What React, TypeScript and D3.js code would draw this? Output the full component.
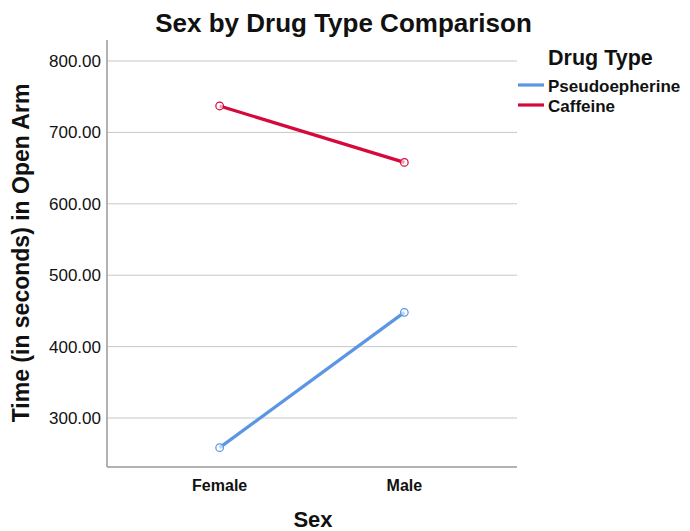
import React, { useEffect, useRef } from 'react';
import * as d3 from 'd3';

const sexes = ['Female', 'Male'];
const drugTypes = ['Pseudoepherine', 'Caffeine'];
const pseudoValues = [258.5, 448];
const caffeineValues = [737, 658];
const yTicks = [300, 400, 500, 600, 700, 800];
const seriesColors = ['#5a96e3', '#d5093b'];

const App: React.FC = () => {
  const svgRef = useRef<SVGSVGElement>(null);

  useEffect(() => {
    if (!svgRef.current) return;
    const svg = d3.select(svgRef.current);
    svg.selectAll('*').remove();

    const font = '"Liberation Sans", Arial, sans-serif';
    const left = 107, right = 517, top = 40, bottom = 467;

    const x = d3.scalePoint<string>().domain(sexes).range([left, right]).padding(0.61);
    const y = d3.scaleLinear().domain([231.4, 829.4]).range([bottom, top]);

    // Gridlines
    svg.append('g')
      .selectAll('line')
      .data(yTicks)
      .enter()
      .append('line')
      .attr('x1', left)
      .attr('x2', right)
      .attr('y1', d => y(d))
      .attr('y2', d => y(d))
      .attr('stroke', '#c8c8c8')
      .attr('stroke-width', 1);

    // Y tick labels
    svg.append('g')
      .selectAll('text')
      .data(yTicks)
      .enter()
      .append('text')
      .attr('x', left - 6)
      .attr('y', d => y(d))
      .attr('dy', '0.35em')
      .attr('text-anchor', 'end')
      .style('font-family', font)
      .style('font-size', '17px')
      .style('fill', '#111')
      .text(d => d3.format('.2f')(d));

    // X tick labels
    svg.append('g')
      .selectAll('text')
      .data(sexes)
      .enter()
      .append('text')
      .attr('x', d => x(d) as number)
      .attr('y', 491)
      .attr('text-anchor', 'middle')
      .style('font-family', font)
      .style('font-size', '16px')
      .style('font-weight', 'bold')
      .style('fill', '#111')
      .text(d => d);

    // Axes lines
    svg.append('line')
      .attr('x1', left).attr('x2', left)
      .attr('y1', top).attr('y2', bottom)
      .attr('stroke', '#9a9a9a').attr('stroke-width', 1.5);
    svg.append('line')
      .attr('x1', left).attr('x2', right)
      .attr('y1', bottom).attr('y2', bottom)
      .attr('stroke', '#9a9a9a').attr('stroke-width', 1.5);

    // Series lines
    const series = [pseudoValues, caffeineValues];
    const line = d3.line<number>()
      .x((_, i) => x(sexes[i]) as number)
      .y(d => y(d));

    series.forEach((vals, si) => {
      svg.append('path')
        .datum(vals)
        .attr('d', line)
        .attr('fill', 'none')
        .attr('stroke', seriesColors[si])
        .attr('stroke-width', 3.2);

      svg.append('g')
        .selectAll('circle')
        .data(vals)
        .enter()
        .append('circle')
        .attr('cx', (_, i) => x(sexes[i]) as number)
        .attr('cy', d => y(d))
        .attr('r', 3.8)
        .attr('fill', 'white')
        .attr('fill-opacity', 0.6)
        .attr('stroke', seriesColors[si])
        .attr('stroke-width', 1.2);
    });

    // Title
    svg.append('text')
      .attr('x', 343.5)
      .attr('y', 32)
      .attr('text-anchor', 'middle')
      .style('font-family', font)
      .style('font-size', '26px')
      .style('font-weight', 'bold')
      .style('fill', '#111')
      .text('Sex by Drug Type Comparison');

    // Axis titles
    svg.append('text')
      .attr('transform', `translate(29, 253) rotate(-90)`)
      .attr('text-anchor', 'middle')
      .style('font-family', font)
      .style('font-size', '23px')
      .style('font-weight', 'bold')
      .style('fill', '#111')
      .text('Time (in seconds) in Open Arm');

    svg.append('text')
      .attr('x', 313)
      .attr('y', 527)
      .attr('text-anchor', 'middle')
      .style('font-family', font)
      .style('font-size', '22px')
      .style('font-weight', 'bold')
      .style('fill', '#111')
      .text('Sex');

    // Legend
    const legend = svg.append('g').attr('transform', 'translate(518, 0)');
    legend.append('text')
      .attr('x', 30)
      .attr('y', 65)
      .style('font-family', font)
      .style('font-size', '21.5px')
      .style('font-weight', 'bold')
      .style('fill', '#111')
      .text('Drug Type');

    drugTypes.forEach((name, i) => {
      const row = legend.append('g').attr('transform', `translate(0, ${85 + i * 20})`);
      row.append('line')
        .attr('x1', 0).attr('x2', 26)
        .attr('y1', 0).attr('y2', 0)
        .attr('stroke', seriesColors[i])
        .attr('stroke-width', 3.2);
      row.append('text')
        .attr('x', 30)
        .attr('y', 1)
        .attr('dy', '0.35em')
        .style('font-family', font)
        .style('font-size', '17px')
        .style('font-weight', 'bold')
        .style('fill', '#111')
        .text(name);
    });
  }, []);

  return (
    <svg
      ref={svgRef}
      width={690}
      height={531}
      style={{ position: 'absolute', left: 0, top: 0, background: 'white' }}
    />
  );
};

export default App;
